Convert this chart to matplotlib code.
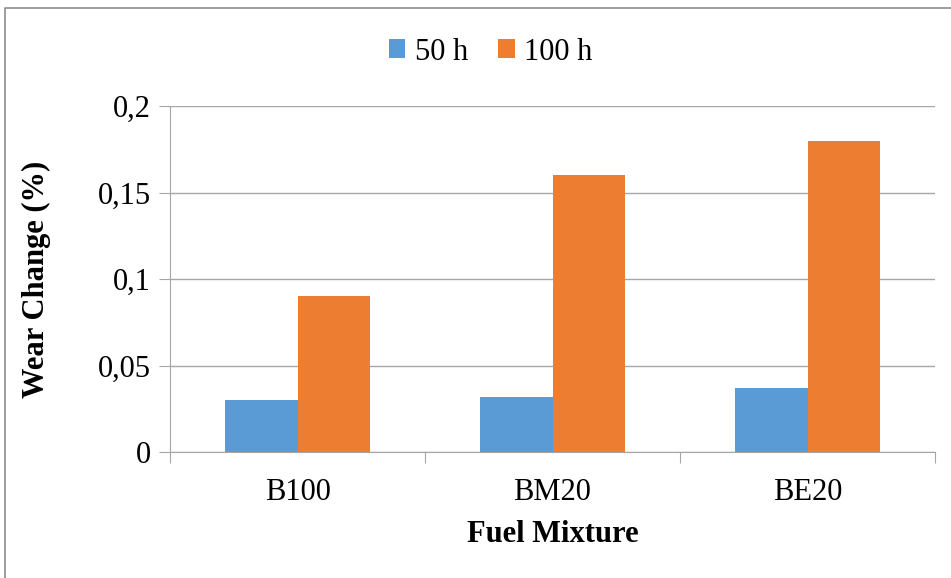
import matplotlib
matplotlib.use("Agg")
import matplotlib.pyplot as plt
from matplotlib.lines import Line2D
from matplotlib.ticker import FuncFormatter
import numpy as np

plt.rcParams['font.family'] = ['Liberation Serif', 'DejaVu Serif']

fuels = ["B100", "BM20", "BE20"]
wear_50h = [0.030, 0.032, 0.037]
wear_100h = [0.090, 0.160, 0.180]
series_names = ["50 h", "100 h"]

blue = "#5B9BD5"
orange = "#ED7D31"
grey = "#A6A6A6"
fs = 22

fig = plt.figure(figsize=(9.51, 5.78), dpi=100)
ax = fig.add_axes([170/951, 1-452/578, 765/951, 346/578])

x = np.arange(len(fuels))
w = 0.286
ax.bar(x - w/2, wear_50h, w, color=blue, label=series_names[0], zorder=3)
ax.bar(x + w/2, wear_100h, w, color=orange, label=series_names[1], zorder=3)

ax.set_xlim(-0.5, len(fuels) - 0.5)
ax.set_ylim(0, 0.2)
ax.set_yticks([0, 0.05, 0.1, 0.15, 0.2])
ax.yaxis.set_major_formatter(FuncFormatter(lambda v, p: ("%g" % round(v, 2)).replace(".", ",")))
ax.yaxis.grid(True, color=grey, linewidth=1, zorder=0)

# category labels centred, tick marks on the boundaries
ax.set_xticks(np.arange(len(fuels) + 1) - 0.5)
ax.set_xticklabels([])
ax.set_xticks(x, minor=True)
ax.set_xticklabels(fuels, minor=True, fontsize=fs)
ax.tick_params(axis="x", which="minor", length=0, pad=19)
ax.tick_params(axis="x", which="major", length=8, color=grey, direction="out")
ax.tick_params(axis="y", length=8, color=grey, labelsize=fs, pad=6)

for s in ["top", "right"]:
    ax.spines[s].set_visible(False)
for s in ["left", "bottom"]:
    ax.spines[s].set_color(grey)

ax.set_xlabel("Fuel Mixture", fontsize=fs, fontweight="bold", va="center")
ax.xaxis.set_label_coords(0.5, (452-534)/346)
ax.set_ylabel("Wear Change (%)", fontsize=fs, fontweight="bold", va="center")
ax.yaxis.set_label_coords((36-170)/765, 0.5)

fig.legend(loc="center", bbox_to_anchor=(0.516, 1-52/578), ncol=2, frameon=False,
           fontsize=fs, handlelength=0.55, handleheight=0.55, handletextpad=0.3,
           columnspacing=1.0)

# outer frame of the chart area
fig.add_artist(Line2D([5/951, 5/951, 1], [0, 1-8/578, 1-8/578], transform=fig.transFigure,
                      color="#8C8C8C", linewidth=1.2))

fig.savefig("out.png", dpi=100)
